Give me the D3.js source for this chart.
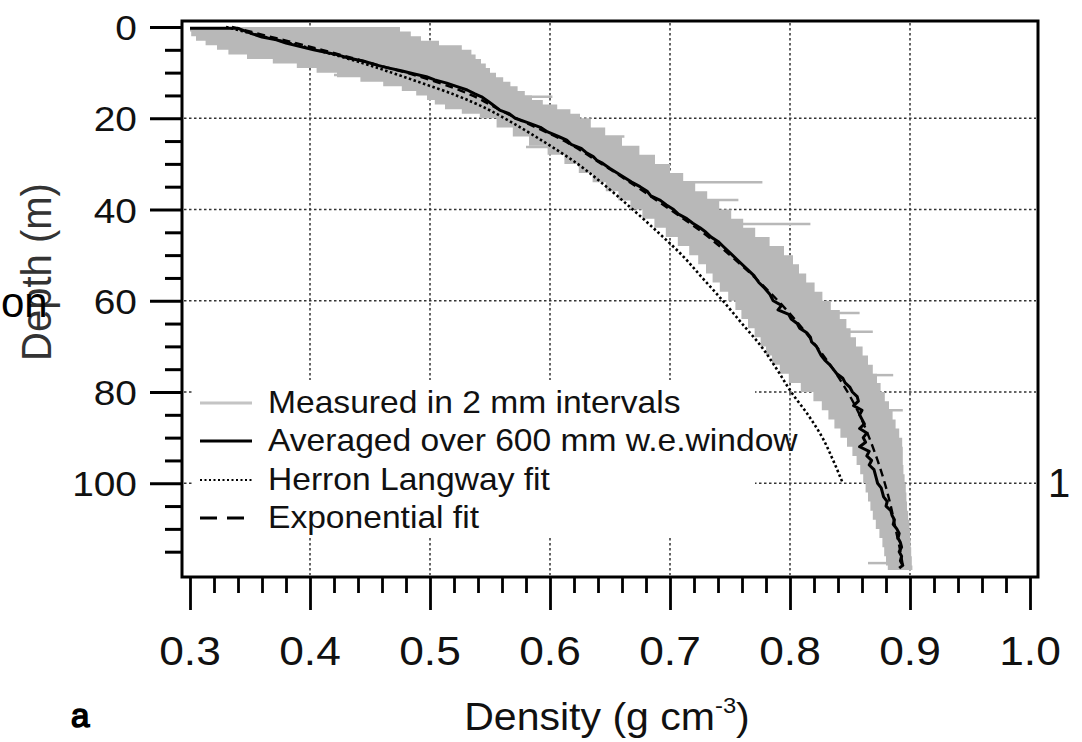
<!DOCTYPE html>
<html><head><meta charset="utf-8">
<script src="https://cdn.jsdelivr.net/npm/d3@7/dist/d3.min.js"></script>
<style>
html,body{margin:0;padding:0;background:#fff;}
svg{display:block;}
text{font-family:"Liberation Sans",Arial,Helvetica,sans-serif;fill:#111;}
</style></head>
<body>
<svg id="c" width="1082" height="742"></svg>
<script>
// ---------- data ----------
const xTickValues = [0.3,0.4,0.5,0.6,0.7,0.8,0.9,1.0];
const xTickLabels = ["0.3","0.4","0.5","0.6","0.7","0.8","0.9","1.0"];
const yTickValues = [0,20,40,60,80,100];
const yTickLabels = ["0","20","40","60","80","100"];
const legendLabels = ["Measured in 2 mm intervals","Averaged over 600 mm w.e.window","Herron Langway fit","Exponential fit"];

// measured (2 mm) envelope
const measDepth = [0,1,2,3,4,5,6,7,8,9,10,11,12,13,14,15,16,17,18,19,20,22,24,26,28,30,32,34,36,38,40,42,44,46,48,50,52,54,56,58,60,62,64,66,68,70,72,74,76,78,80,82,84,86,88,90,92,94,96,98,100,102,104,106,108,110,112,114,116,118,119];
const measLow = [0.300,0.300,0.302,0.308,0.318,0.327,0.337,0.358,0.380,0.398,0.413,0.432,0.452,0.470,0.483,0.494,0.501,0.507,0.518,0.535,0.548,0.563,0.575,0.590,0.606,0.618,0.630,0.641,0.652,0.662,0.672,0.682,0.692,0.701,0.712,0.720,0.727,0.733,0.738,0.745,0.752,0.757,0.762,0.768,0.773,0.778,0.782,0.788,0.795,0.803,0.815,0.824,0.829,0.835,0.839,0.845,0.850,0.854,0.857,0.860,0.862,0.864,0.866,0.868,0.870,0.873,0.876,0.878,0.879,0.881,0.882];
const measHigh = [0.472,0.478,0.490,0.495,0.520,0.533,0.536,0.540,0.545,0.548,0.552,0.558,0.564,0.570,0.576,0.582,0.588,0.600,0.612,0.622,0.628,0.640,0.652,0.668,0.681,0.694,0.706,0.716,0.726,0.736,0.746,0.756,0.766,0.776,0.790,0.800,0.805,0.810,0.817,0.824,0.830,0.838,0.845,0.849,0.852,0.858,0.863,0.867,0.871,0.874,0.877,0.881,0.884,0.887,0.889,0.893,0.894,0.894,0.894,0.895,0.896,0.897,0.897,0.898,0.899,0.900,0.900,0.901,0.901,0.902,0.902];
// isolated long measurements
const spikeDepth = [15.3,24.0,34.0,37.9,43.2,62.7,66.8,76.3,84.0,10.5,26.3,117.5];
const spikeFrom  = [0.570,0.640,0.700,0.720,0.760,0.820,0.840,0.860,0.870,0.470,0.610,0.880];
const spikeTo    = [0.602,0.662,0.777,0.757,0.817,0.858,0.869,0.886,0.894,0.420,0.580,0.865];

// averaged over 600 mm w.e. window
const avgDepth = [0.3,0.3,0.8,1.5,2.2,2.8,3.5,4.3,5.0,5.5,6.1,6.8,7.5,8.3,8.9,9.6,10.3,10.9,11.6,12.3,13.0,13.8,14.6,15.3,16.2,17.0,18.2,19.0,20.0,21.0,22.0,23.0,24.0,24.8,25.8,26.6,27.5,28.4,29.2,29.9,31,32,33,34,35,36,37,38,39,40,41,42,43,44,45,46,47,48,49,50,51.5,53,54.5,56,57,58.5,60,61,62,63,64,65,66,67,68,69,70,71,72,73,74,75,76,77,78,79,80,81,82,83,84,85,86,87,88,89,90,91,92,93,94,95,96,97,98,99,100,101,102,103,104,105,106,107,108,109,110,111,112,113,114,115,116,117,118,118.6];
const avgDensity = [0.300,0.340,0.345,0.352,0.360,0.372,0.380,0.392,0.403,0.412,0.423,0.432,0.445,0.455,0.464,0.476,0.487,0.497,0.504,0.514,0.522,0.531,0.537,0.543,0.548,0.552,0.558,0.566,0.571,0.582,0.592,0.598,0.607,0.614,0.618,0.626,0.630,0.636,0.639,0.644,0.650,0.656,0.662,0.668,0.675,0.681,0.684,0.692,0.697,0.703,0.707,0.714,0.719,0.725,0.730,0.734,0.740,0.744,0.748,0.752,0.758,0.764,0.770,0.774,0.778,0.783,0.786,0.793,0.790,0.799,0.801,0.806,0.808,0.814,0.817,0.818,0.822,0.824,0.826,0.829,0.833,0.836,0.839,0.844,0.846,0.850,0.852,0.856,0.857,0.853,0.860,0.858,0.860,0.862,0.858,0.864,0.861,0.863,0.858,0.866,0.864,0.868,0.866,0.870,0.871,0.872,0.873,0.876,0.877,0.878,0.881,0.880,0.884,0.885,0.887,0.886,0.889,0.891,0.890,0.892,0.893,0.891,0.893,0.892,0.894,0.891];

// Herron Langway fit
const hlDepth = [0,2,5,8,10,12,15,18,20,25,30,35,40,45,50,55,60,65,70,75,80,85,90,95,100];
const hlDensity = [0.330,0.360,0.405,0.445,0.468,0.490,0.522,0.548,0.562,0.594,0.623,0.647,0.669,0.690,0.710,0.727,0.744,0.760,0.776,0.789,0.801,0.815,0.827,0.836,0.844];

// Exponential fit
const expDepth = [0,2,5,8,10,12,15,18,20,25,30,35,40,45,50,55,60,65,70,75,80,85,90,95,100,105,110,115,118];
const expDensity = [0.335,0.365,0.410,0.452,0.480,0.505,0.535,0.557,0.572,0.612,0.643,0.672,0.700,0.727,0.750,0.771,0.790,0.807,0.822,0.836,0.848,0.858,0.866,0.873,0.879,0.884,0.888,0.892,0.894];

// ---------- drawing ----------
const svg = d3.select("#c");
const x = d3.scaleLinear().domain([0.3,1.0]).range([190,1030]);
const y = d3.scaleLinear().domain([0,100]).range([27,483.25]);
const frame = {l:182, r:1038, t:21, b:577};
const SX = 1.08; // horizontal stretch of the original figure's text

svg.append("defs").append("clipPath").attr("id","pc")
  .append("rect").attr("x",frame.l).attr("y",frame.t).attr("width",frame.r-frame.l).attr("height",frame.b-frame.t);

// grid
const grid = svg.append("g").attr("stroke","#333").attr("stroke-width",1.5).attr("stroke-dasharray","2.5,2.5");
xTickValues.slice(1,7).forEach(v=>{
  grid.append("line").attr("x1",x(v)).attr("x2",x(v)).attr("y1",frame.t+2).attr("y2",frame.b-2);
});
yTickValues.slice(1).forEach(v=>{
  grid.append("line").attr("x1",frame.l+2).attr("x2",frame.r-2).attr("y1",y(v)).attr("y2",y(v));
});
// legend background
svg.append("rect").attr("x",193).attr("y",380).attr("width",562).attr("height",157).attr("fill","#fff");

const plot = svg.append("g").attr("clip-path","url(#pc)");
const meas = measDepth.map((d,i)=>({z:d,lo:measLow[i],hi:measHigh[i]}));
plot.append("path").datum(meas)
  .attr("d", d3.area().y(d=>y(d.z)).x0(d=>x(d.lo)).x1(d=>x(d.hi)).curve(d3.curveStep))
  .attr("fill","#b8b8b8");
spikeDepth.forEach((d,i)=>{
  plot.append("line").attr("x1",x(spikeFrom[i])).attr("x2",x(spikeTo[i]))
    .attr("y1",y(d)).attr("y2",y(d)).attr("stroke","#b8b8b8").attr("stroke-width",2.5);
});
const line = d3.line().x(d=>x(d[1])).y(d=>y(d[0]));
plot.append("path").datum(hlDepth.map((d,i)=>[d,hlDensity[i]]))
  .attr("d",line.curve(d3.curveMonotoneY)).attr("fill","none").attr("stroke","#000")
  .attr("stroke-width",2.6).attr("stroke-dasharray","2.5,2.5");
plot.append("path").datum(expDepth.map((d,i)=>[d,expDensity[i]]))
  .attr("d",line.curve(d3.curveMonotoneY)).attr("fill","none").attr("stroke","#000")
  .attr("stroke-width",2.4).attr("stroke-dasharray","8,5");
plot.append("path").datum(avgDepth.map((d,i)=>[d,avgDensity[i]]))
  .attr("d",d3.line().x(d=>x(d[1])).y(d=>y(d[0]))).attr("fill","none").attr("stroke","#000")
  .attr("stroke-width",3).attr("stroke-linejoin","round");

// frame
svg.append("rect").attr("x",frame.l).attr("y",frame.t).attr("width",frame.r-frame.l).attr("height",frame.b-frame.t)
  .attr("fill","none").attr("stroke","#000").attr("stroke-width",3);

// y ticks
const yMinor = d3.range(5,120,5).filter(v=>v%20!==0);
const yAxisMajor = d3.axisLeft(y).tickValues(yTickValues).tickSize(32).tickFormat("");
const yAxisMinor = d3.axisLeft(y).tickValues(yMinor).tickSize(17).tickFormat("");
[yAxisMajor,yAxisMinor].forEach(ax=>{
  const g = svg.append("g").attr("transform",`translate(${frame.l},0)`).call(ax);
  g.select(".domain").remove();
  g.selectAll("line").attr("stroke","#000").attr("stroke-width",3);
});
// x ticks
const xMinor = d3.range(0,36).map(i=>0.3+i*0.02).filter((v,i)=>i%5!==0);
const xAxisMajor = d3.axisBottom(x).tickValues(xTickValues).tickSize(33).tickFormat("");
const xAxisMinor = d3.axisBottom(x).tickValues(xMinor).tickSize(16).tickFormat("");
[xAxisMajor,xAxisMinor].forEach(ax=>{
  const g = svg.append("g").attr("transform",`translate(0,${frame.b})`).call(ax);
  g.select(".domain").remove();
  g.selectAll("line").attr("stroke","#000").attr("stroke-width",2.8);
});

// tick labels
yTickValues.forEach((v,i)=>{
  svg.append("text").attr("transform",`translate(137,${y(v)+13}) scale(${SX},1)`)
    .attr("text-anchor","end").attr("font-size",36).text(yTickLabels[i]);
});
xTickValues.forEach((v,i)=>{
  svg.append("text").attr("transform",`translate(${x(v)},665) scale(${SX},1)`)
    .attr("text-anchor","middle").attr("font-size",41).text(xTickLabels[i]);
});

// axis titles
const xt = svg.append("text").attr("transform",`translate(607,730) scale(${SX},1)`)
  .attr("text-anchor","middle").attr("font-size",38);
xt.append("tspan").text("Density (g cm");
xt.append("tspan").attr("font-size",22).attr("dy",-17).text("-3");
xt.append("tspan").attr("dy",17).text(")");
svg.append("text").attr("transform",`translate(51,272) scale(${SX},1) rotate(-90)`)
  .attr("text-anchor","middle").attr("font-size",40).style("fill","#333").text("Depth (m)");
// panel letter (bold look via stroke so the sans face is kept)
svg.append("text").attr("x",71).attr("y",727).attr("font-size",33)
  .style("fill","#000").style("stroke","#000").style("stroke-width",1.6).text("a");

// legend
const legY = [403,441,480,518];
const legStyles = [
  {stroke:"#c4c4c4",w:3,dash:null},
  {stroke:"#000",w:3,dash:null},
  {stroke:"#000",w:2,dash:"2,2.5"},
  {stroke:"#000",w:3,dash:"17,10"}
];
legendLabels.forEach((lab,i)=>{
  const s = legStyles[i];
  const ln = svg.append("line").attr("x1",200).attr("x2",252).attr("y1",legY[i]).attr("y2",legY[i])
    .attr("stroke",s.stroke).attr("stroke-width",s.w);
  if(s.dash) ln.attr("stroke-dasharray",s.dash);
  svg.append("text").attr("transform",`translate(268,${legY[i]+10}) scale(1.05,1)`)
    .attr("font-size",32).text(lab);
});

// stray fragments from the neighbouring panel
svg.append("text").attr("x",1).attr("y",317).attr("font-size",42).style("fill","#000").text("on");
svg.append("text").attr("x",1048).attr("y",497).attr("font-size",40).text("1");
</script>
</body></html>
